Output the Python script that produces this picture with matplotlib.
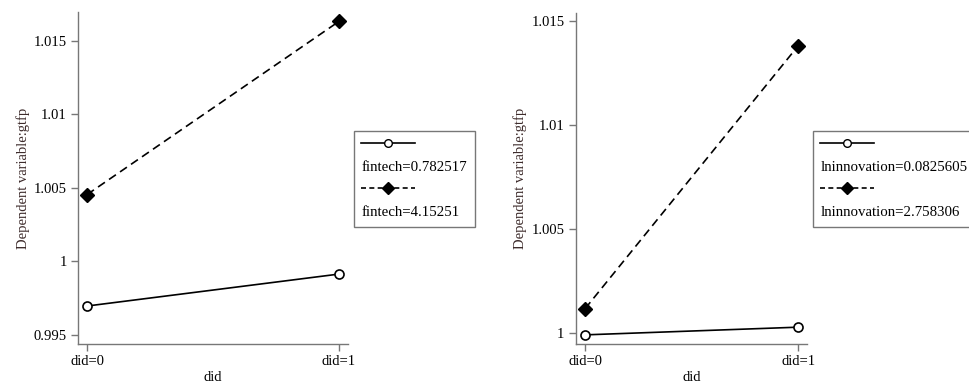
import matplotlib
matplotlib.use("Agg")
import matplotlib.pyplot as plt
from matplotlib.lines import Line2D

plt.rcParams['font.family'] = ['Liberation Serif', 'DejaVu Serif']
plt.rcParams['font.size'] = 10.5

# data
did_labels = ['did=0', 'did=1']
did_x = [0, 1]

fintech_low = [0.99697, 0.99914]
fintech_high = [1.00454, 1.01630]
fintech_names = ['fintech=0.782517', 'fintech=4.15251']

innov_low = [0.99990, 1.00027]
innov_high = [1.00116, 1.01381]
innov_names = ['lninnovation=0.0825605', 'lninnovation=2.758306']

left_ticks = [0.995, 1.0, 1.005, 1.01, 1.015]
left_ticklabels = ['0.995', '1', '1.005', '1.01', '1.015']
right_ticks = [1.0, 1.005, 1.01, 1.015]
right_ticklabels = ['1', '1.005', '1.01', '1.015']

spine_col = '#777777'
label_col = '#3d2b2b'

fig = plt.figure(figsize=(9.70, 3.83), dpi=100)
ax1 = fig.add_axes([0.0804, 0.1018, 0.2784, 0.8669])
ax2 = fig.add_axes([0.5935, 0.1018, 0.2385, 0.8642])


def draw_panel(ax, low, high, names, ticks, ticklabels, ylim, xlim, legend_x):
    ax.plot(did_x, low, color='black', lw=1.2, marker='o', ms=6.5,
            mfc='white', mec='black', mew=1.2)
    ax.plot(did_x, high, color='black', lw=1.2, ls=(0, (5, 3)), marker='D',
            ms=7.5, mfc='black', mec='black')
    ax.set_xlim(xlim)
    ax.set_ylim(ylim)
    ax.set_xticks(did_x)
    ax.set_xticklabels(did_labels)
    ax.set_yticks(ticks)
    ax.set_yticklabels(ticklabels)
    for s in ['top', 'right']:
        ax.spines[s].set_visible(False)
    for s in ['left', 'bottom']:
        ax.spines[s].set_color(spine_col)
        ax.spines[s].set_linewidth(1.0)
    ax.tick_params(colors=spine_col, labelcolor='black', length=5, width=1.0,
                   pad=3)
    ax.set_xlabel('did', labelpad=2)
    ax.set_ylabel('Dependent variable:gtfp', color=label_col, labelpad=3)

    # stata style legend: handle on one row, label under it
    h1 = Line2D([], [], color='black', lw=1.2, marker='o', ms=5.5,
                mfc='white', mec='black')
    h2 = Line2D([], [], color='black', lw=1.2, ls=(0, (3, 2)), marker='D',
                ms=6.5, mfc='black')
    blank = Line2D([], [], color='none')
    leg = fig.legend([h1, blank, h2, blank], ['', names[0], '', names[1]],
                     loc='upper left', bbox_to_anchor=(legend_x, 0.659),
                     bbox_transform=fig.transFigure, fontsize=10.7,
                     handlelength=3.6, handletextpad=-3.6, labelspacing=0.62,
                     borderpad=0.5, frameon=True, fancybox=False,
                     edgecolor='#555555', borderaxespad=0)
    leg.get_frame().set_linewidth(1.0)


draw_panel(ax1, fintech_low, fintech_high, fintech_names, left_ticks,
           left_ticklabels, (0.99439, 1.01694), (-0.036, 1.036), 0.365)
draw_panel(ax2, innov_low, innov_high, innov_names, right_ticks,
           right_ticklabels, (0.99946, 1.01538), (-0.044, 1.041), 0.838)

fig.savefig('out.png', dpi=100)
